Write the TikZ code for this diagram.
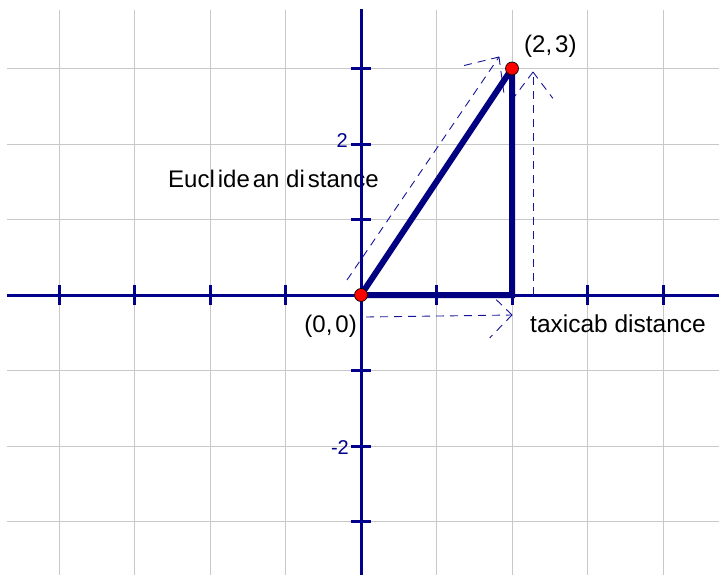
\documentclass[tikz,border=0pt]{standalone}
\usepackage{fontspec}
\setmainfont{Liberation Sans}
\usetikzlibrary{calc}
\definecolor{axisblue}{RGB}{0,0,140}
\definecolor{triblue}{RGB}{0,0,128}
\definecolor{gridgray}{RGB}{200,200,200}
\definecolor{dashblue}{RGB}{20,20,150}
\begin{document}
\begin{tikzpicture}[x=1pt,y=-1pt,
  gridline/.style={draw=gridgray,line width=1pt},
  axisline/.style={draw=axisblue,line width=3pt},
  tickmark/.style={draw=axisblue,line width=3pt},
  triside/.style={draw=triblue,line width=6pt,line join=miter,miter limit=2},
  dashedarrow/.style={draw=dashblue,line width=0.9pt,dash pattern=on 8pt off 6pt},
  dot/.style={circle,fill=red,draw=black,line width=0.7pt,inner sep=0pt,minimum size=13pt},
  ticklabel/.style={text=axisblue,font=\fontsize{20}{24}\selectfont,anchor=east,inner sep=0pt},
  biglabel/.style={font=\fontsize{24}{28}\selectfont,text=black,inner sep=0pt}
]
\useasboundingbox (0,0) rectangle (719,575);
% grid
\foreach \x in {59,134.5,210,285.5,361,436.5,512,587.5,663}
  \draw[gridline] (\x,10) -- (\x,575);
\foreach \y in {68.5,144,219.5,295,370.5,446,521.5}
  \draw[gridline] (7,\y) -- (719,\y);
% label behind axes
\node[biglabel,anchor=base west] (eu) at (168,187) {Eucl\kern3pt ide\kern3pt an di\kern3pt stance};
% axes
\coordinate (xl) at (7,295);
\coordinate (xr) at (719,295);
\coordinate (yt) at (361,9);
\coordinate (yb) at (361,575);
\draw[axisline] (xl) -- (xr);
\draw[axisline] (yt) -- (yb);
\foreach \x in {59,134.5,210,285.5,436.5,512,587.5,663}
  \draw[tickmark] (\x,285) -- (\x,305);
\foreach \y in {68.5,144,219.5,370.5,446,521.5}
  \draw[tickmark] (351,\y) -- (371,\y);
\node[ticklabel] (l2) at (348,141) {2};
\node[ticklabel] (lm2) at (349,448) {-2};
% dashed arrows
\coordinate (E1) at (347,280);
\coordinate (E2) at (499,57);
\draw[dashedarrow] (E1) -- (E2);
\draw[dashedarrow] (E2) -- ($(E2)!36pt!42:(E1)$);
\draw[dashedarrow] (E2) -- ($(E2)!36pt!-42:(E1)$);
\coordinate (H1) at (366,317);
\coordinate (H2) at (512,315);
\draw[dashedarrow] (H1) -- (H2);
\draw[dashedarrow] (H2) -- ($(H2)!32pt!45:(H1)$);
\draw[dashedarrow] (H2) -- ($(H2)!32pt!-45:(H1)$);
\coordinate (V1) at (533,295);
\coordinate (V2) at (533,72);
\draw[dashedarrow] (V1) -- (V2);
\draw[dashedarrow] (V2) -- ($(V2)!33pt!37:(V1)$);
\draw[dashedarrow] (V2) -- ($(V2)!33pt!-37:(V1)$);
% triangle
\coordinate (O) at (361,295);
\coordinate (P) at (512,68.5);
\coordinate (C) at (512,295);
\draw[triside] (O) -- (C) -- (P) -- cycle;
\node[dot] (Odot) at (O) {};
\node[dot] (Pdot) at (P) {};
% labels
\node[biglabel,anchor=base west] (pl) at (524,53) {(2,\kern3pt 3)};
\node[biglabel,anchor=base east] (ol) at (357,332) {(0,\kern3pt 0)};
\node[biglabel,anchor=base west,font=\fontsize{24.5}{28}\selectfont] (tx) at (530,332) {taxicab distance};
\end{tikzpicture}
\end{document}
